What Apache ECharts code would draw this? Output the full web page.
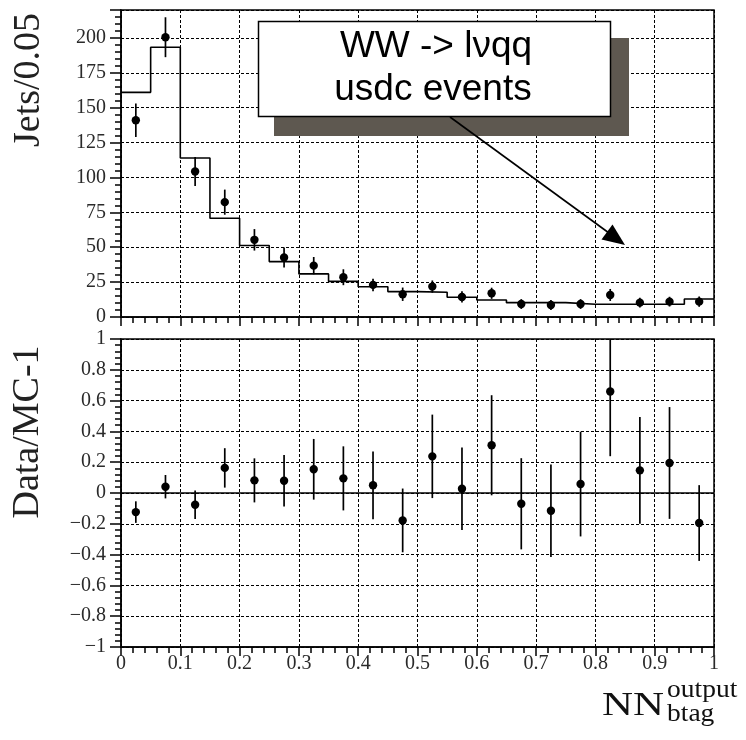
<!DOCTYPE html>
<html>
<head>
<meta charset="utf-8">
<script src="https://cdn.jsdelivr.net/npm/echarts@6/dist/echarts.min.js"></script>
<style>
  html, body { margin: 0; padding: 0; background: #fff; }
  #chart { width: 746px; height: 740px; }
</style>
</head>
<body>
<div id="chart"></div>
<script>
// NN b-tag output, 20 bins of width 0.05
const binWidth = 0.05;
const binCenters = [0.025, 0.075, 0.125, 0.175, 0.225, 0.275, 0.325, 0.375, 0.425, 0.475,
                    0.525, 0.575, 0.625, 0.675, 0.725, 0.775, 0.825, 0.875, 0.925, 0.975];

// Monte Carlo expectation (histogram), jets per bin
const mcJets = [161, 193.3, 113.9, 70.8, 51.2, 39.7, 30.9, 25.5, 21.7, 18.2,
                17.7, 14.1, 12.2, 10.3, 10.3, 9.1, 9.1, 9.1, 9.1, 12.9];

// Data, jets per bin, with statistical errors
const dataJets = [141, 200.5, 104.3, 82.3, 55.3, 42.6, 36.8, 28.5, 23, 16.3,
                  21.8, 14.4, 17, 9.3, 8.6, 9.3, 15.8, 10.3, 11, 11];
const dataJetsErr = [12, 14.3, 10.4, 9, 7.7, 7.2, 6.2, 5.7, 4.5, 4.8,
                     4.4, 4, 4, 3.5, 3.5, 3.5, 4.3, 3.5, 3.5, 3.7];

// Data/MC - 1 with errors
const ratio = [-0.124, 0.041, -0.076, 0.163, 0.082, 0.08, 0.154, 0.095, 0.05, -0.178,
               0.238, 0.028, 0.31, -0.07, -0.115, 0.058, 0.659, 0.147, 0.195, -0.195];
const ratioErr = [0.07, 0.076, 0.093, 0.128, 0.143, 0.167, 0.197, 0.208, 0.22, 0.207,
                  0.271, 0.268, 0.325, 0.296, 0.3, 0.34, 0.42, 0.347, 0.363, 0.246];

// Axis ranges
const jetsRange = [0, 220];
const jetsMajorStep = 25;
const jetsMinorStep = 5;
const jetsLastLabel = 200;
const ratioRange = [-1, 1];
const ratioStep = 0.2;
const nnRange = [0, 1];
const nnStep = 0.1;

// Histogram outline: one point per lower bin edge, closed at the last upper edge
const mcSteps = binCenters.map((c, i) => [c - binWidth / 2, mcJets[i]]);
mcSteps.push([binCenters[binCenters.length - 1] + binWidth / 2, mcJets[mcJets.length - 1]]);

const jetsPoints = binCenters.map((c, i) => [c, dataJets[i], dataJetsErr[i]]);
const ratioPoints = binCenters.map((c, i) => [c, ratio[i], ratioErr[i]]);

const BLACK = '#000';
const LABEL_FONT = '"Liberation Serif", "Times New Roman", serif';
const BOX_FONT = '"Liberation Sans", Arial, sans-serif';

const frameLine = { color: BLACK, width: 1.5 };
const dashedGrid = { show: true, lineStyle: { color: BLACK, width: 1, type: [3, 2] } };

// typographic minus for negative tick values
function numLabel(v) {
  const r = Math.round(v * 10) / 10;
  return r < 0 ? '\u2212' + String(-r) : String(r);
}

// marker with vertical error bar, clipped to the plotting frame
function pointWithError(params, api) {
  const x = api.value(0), y = api.value(1), e = api.value(2);
  const cs = params.coordSys;
  const c = api.coord([x, y]);
  const hi = api.coord([x, y + e]);
  const lo = api.coord([x, y - e]);
  const y1 = Math.max(cs.y, hi[1]);
  const y2 = Math.min(cs.y + cs.height, lo[1]);
  return {
    type: 'group',
    children: [
      { type: 'line', shape: { x1: c[0], y1: y1, x2: c[0], y2: y2 },
        style: { stroke: BLACK, lineWidth: 1.7 } },
      { type: 'circle', shape: { cx: c[0], cy: c[1], r: 4.2 },
        style: { fill: BLACK } }
    ]
  };
}

function nnAxis(gridIndex, withLabels) {
  return {
    type: 'value', gridIndex: gridIndex,
    min: nnRange[0], max: nnRange[1], interval: nnStep,
    axisLine: { show: true, onZero: false, lineStyle: frameLine },
    axisTick: { show: true, inside: false, length: 9, lineStyle: frameLine },
    minorTick: { show: true, splitNumber: 5, length: 6, lineStyle: frameLine },
    minorSplitLine: { show: false },
    splitLine: dashedGrid,
    axisLabel: {
      show: withLabels, margin: 7, color: '#2a2a2a',
      fontFamily: LABEL_FONT, fontSize: 20, formatter: numLabel
    }
  };
}

const chart = echarts.init(document.getElementById('chart'), null, { renderer: 'canvas' });

chart.setOption({
  animation: false,
  backgroundColor: '#fff',
  grid: [
    { left: 121, top: 10, width: 593, height: 307, show: true,
      borderColor: BLACK, borderWidth: 1.5, containLabel: false, outerBoundsMode: 'none' },
    { left: 121, top: 339, width: 593, height: 308, show: true,
      borderColor: BLACK, borderWidth: 1.5, containLabel: false, outerBoundsMode: 'none' }
  ],
  xAxis: [nnAxis(0, false), nnAxis(1, true)],
  yAxis: [
    {
      type: 'value', gridIndex: 0, position: 'left',
      min: jetsRange[0], max: jetsRange[1], interval: jetsMajorStep,
      axisLine: { show: true, onZero: false, lineStyle: frameLine },
      axisTick: { show: true, inside: false, length: 11, lineStyle: frameLine },
      splitLine: dashedGrid,
      axisLabel: {
        margin: 15, color: '#2a2a2a', fontFamily: LABEL_FONT, fontSize: 20,
        formatter: v => (v > jetsLastLabel ? '' : String(v))
      }
    },
    {
      type: 'value', gridIndex: 0, position: 'left',
      min: jetsRange[0], max: jetsRange[1], interval: jetsMinorStep,
      axisLine: { show: false },
      axisTick: { show: true, inside: false, length: 6, lineStyle: frameLine },
      splitLine: { show: false },
      axisLabel: { show: false }
    },
    {
      type: 'value', gridIndex: 1, position: 'left',
      min: ratioRange[0], max: ratioRange[1], interval: ratioStep,
      axisLine: { show: true, onZero: false, lineStyle: frameLine },
      axisTick: { show: true, inside: false, length: 11, lineStyle: frameLine },
      minorTick: { show: true, splitNumber: 5, length: 6, lineStyle: frameLine },
      splitLine: dashedGrid,
      axisLabel: {
        margin: 15, color: '#2a2a2a', fontFamily: LABEL_FONT, fontSize: 20,
        formatter: numLabel
      }
    }
  ],
  series: [
    {
      name: 'MC', type: 'line', xAxisIndex: 0, yAxisIndex: 0,
      step: 'end', data: mcSteps, showSymbol: false, symbol: 'none',
      lineStyle: { color: BLACK, width: 1.6 }, silent: true, z: 3
    },
    {
      name: 'Data', type: 'custom', xAxisIndex: 0, yAxisIndex: 0,
      renderItem: pointWithError, data: jetsPoints,
      encode: { x: 0, y: 1 }, silent: true, z: 4
    },
    {
      name: 'zero', type: 'line', xAxisIndex: 1, yAxisIndex: 2,
      data: [[nnRange[0], 0], [nnRange[1], 0]], symbol: 'none',
      lineStyle: { color: BLACK, width: 1.5 }, silent: true, z: 3
    },
    {
      name: 'Data/MC-1', type: 'custom', xAxisIndex: 1, yAxisIndex: 2,
      renderItem: pointWithError, data: ratioPoints,
      encode: { x: 0, y: 1 }, silent: true, z: 4
    }
  ],
  graphic: [
    // y-axis titles
    { type: 'text', x: 29, y: 80, rotation: Math.PI / 2, z: 10,
      style: { text: 'Jets/0.05', font: '38px ' + LABEL_FONT, fill: '#222',
               align: 'center', verticalAlign: 'middle' } },
    { type: 'text', x: 28, y: 432, rotation: Math.PI / 2, z: 10,
      style: { text: 'Data/MC-1', font: '38px ' + LABEL_FONT, fill: '#222',
               align: 'center', verticalAlign: 'middle' } },
    // x-axis title NN with sub/superscript
    { type: 'text', x: 602, y: 706, scaleX: 1.3, z: 10,
      style: { text: 'NN', font: '33px ' + LABEL_FONT, fill: '#111',
               align: 'left', verticalAlign: 'middle' } },
    { type: 'text', x: 667, y: 690, scaleX: 1.1, z: 10,
      style: { text: 'output', font: '25px ' + LABEL_FONT, fill: '#111',
               align: 'left', verticalAlign: 'middle' } },
    { type: 'text', x: 667, y: 714, scaleX: 1.1, z: 10,
      style: { text: 'btag', font: '25px ' + LABEL_FONT, fill: '#111',
               align: 'left', verticalAlign: 'middle' } },
    // annotation box with shadow and arrow
    { type: 'rect', z: 20, shape: { x: 274, y: 38, width: 355, height: 98 },
      style: { fill: '#5e5850' } },
    { type: 'line', z: 21, shape: { x1: 450, y1: 117, x2: 609, y2: 233 },
      style: { stroke: BLACK, lineWidth: 1.6 } },
    { type: 'polygon', z: 21,
      shape: { points: [[625, 245], [601.5, 239.5], [612.5, 224.5]] },
      style: { fill: BLACK } },
    { type: 'rect', z: 22, shape: { x: 258.5, y: 21.5, width: 352, height: 95 },
      style: { fill: '#fff', stroke: BLACK, lineWidth: 1.5 } },
    { type: 'text', x: 436, y: 47, z: 23,
      style: { text: 'WW -> l\u03BDqq', font: '37px ' + BOX_FONT, fill: '#000',
               align: 'center', verticalAlign: 'middle' } },
    { type: 'text', x: 433, y: 90, z: 23,
      style: { text: 'usdc events', font: '37px ' + BOX_FONT, fill: '#000',
               align: 'center', verticalAlign: 'middle' } }
  ]
});
</script>
</body>
</html>
